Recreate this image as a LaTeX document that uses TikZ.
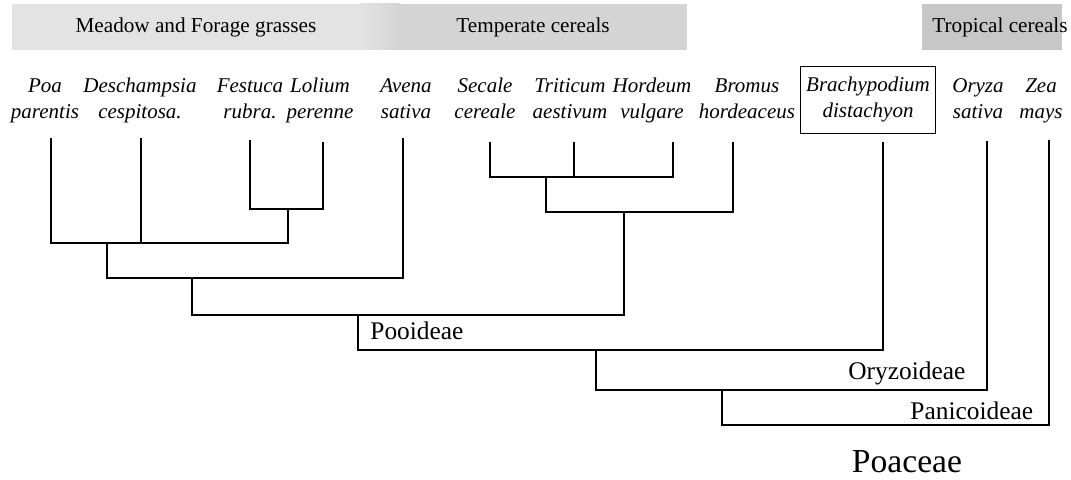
\documentclass[tikz,border=0pt]{standalone}
\usepackage{fontspec}
\setmainfont{Liberation Serif}
\usepackage{tikz}

\definecolor{meadowgray}{gray}{0.89}
\definecolor{temperategray}{gray}{0.83}
\definecolor{tropicalgray}{gray}{0.78}

\begin{document}
\begin{tikzpicture}[x=0.5pt, y=-0.5pt,
    taxon/.style={font=\fontsize{10.5}{13}\selectfont\itshape, align=center, inner sep=0pt, anchor=base},
    band/.style={font=\fontsize{10.6}{13}\selectfont, inner sep=0pt, anchor=base},
    clade/.style={font=\fontsize{12.7}{15}\selectfont, inner sep=0pt, anchor=base west},
    branch/.style={line width=0.9pt}]
            \useasboundingbox (0,0) rectangle (1071,480);

            \fill[meadowgray] (12,4) rectangle (360,50);
            \shade[left color=meadowgray, right color=temperategray] (360,4) rectangle (400,50);
            \fill[temperategray] (400,4) rectangle (687,50);
            \fill[tropicalgray] (922,4) rectangle (1062,50);
            \node[band] (meadow) at (196,33) {Meadow and Forage grasses};
            \node[band] (temperate) at (533,33) {Temperate cereals};
            \node[band] (tropical) at (1000,33) {Tropical cereals};

            % base anchor = baseline of the second line
            \node[taxon] (poa) at (45,119) {Poa\\parentis};
            \node[taxon] (desch) at (140,119) {Deschampsia\\cespitosa.};
            \node[taxon] (festuca) at (250,119) {Festuca\\rubra.};
            \node[taxon] (lolium) at (320,119) {Lolium\\perenne};
            \node[taxon] (avena) at (406,119) {Avena\\sativa};
            \node[taxon] (secale) at (485,119) {Secale\\cereale};
            \node[taxon] (triticum) at (570,119) {Triticum\\aestivum};
            \node[taxon] (hordeum) at (652,119) {Hordeum\\vulgare};
            \node[taxon] (bromus) at (747,119) {Bromus\\hordeaceus};
            \node[taxon, draw, line width=0.6pt, inner xsep=3pt, inner ysep=5.5pt] (brachy) at (868,118) {Brachypodium\\distachyon};
            \node[taxon] (oryza) at (978,119) {Oryza\\sativa};
            \node[taxon] (zea) at (1041,119) {Zea\\mays};

            \coordinate (poa-t) at (51,138); \coordinate (desch-t) at (141,138);
            \coordinate (festuca-t) at (250,140); \coordinate (lolium-t) at (323,142);
            \coordinate (avena-t) at (403,138); \coordinate (secale-t) at (490,142);
            \coordinate (triticum-t) at (574,142); \coordinate (hordeum-t) at (673,142);
            \coordinate (bromus-t) at (733,142); \coordinate (brachy-t) at (883,142);
            \coordinate (oryza-t) at (987,141); \coordinate (zea-t) at (1049,140);

            \coordinate (festlol) at (288,209); \coordinate (poeae) at (107,243);
            \coordinate (aveneae) at (192,278); \coordinate (triticeae) at (546,177);
            \coordinate (bromeae) at (624,212); \coordinate (core) at (358,315);
            \coordinate (pooid) at (596,350); \coordinate (bep) at (722,390);
            \coordinate (root) at (722,425);

            \foreach \a/\n/\b in {festuca-t/festlol/lolium-t, poa-t/poeae/festlol, poeae/aveneae/avena-t,
                secale-t/triticeae/hordeum-t, triticeae/bromeae/bromus-t, aveneae/core/bromeae,
                core/pooid/brachy-t, pooid/bep/oryza-t, bep/root/zea-t}
                \draw[branch] (\a) |- (\n) -| (\b);
            \draw[branch] (desch-t) -- (desch-t |- poeae) (triticum-t) -- (triticum-t |- triticeae);

            \node[clade] (pooideae) at (370,340) {Pooideae};
            \node[clade] (oryzoideae) at (848,380) {Oryzoideae};
            \node[clade] (panicoideae) at (910,420) {Panicoideae};
            \node[font=\fontsize{16.8}{20}\selectfont, inner sep=0pt, anchor=base] (poaceae) at (907,473) {Poaceae};
        \end{tikzpicture}
\end{document}
